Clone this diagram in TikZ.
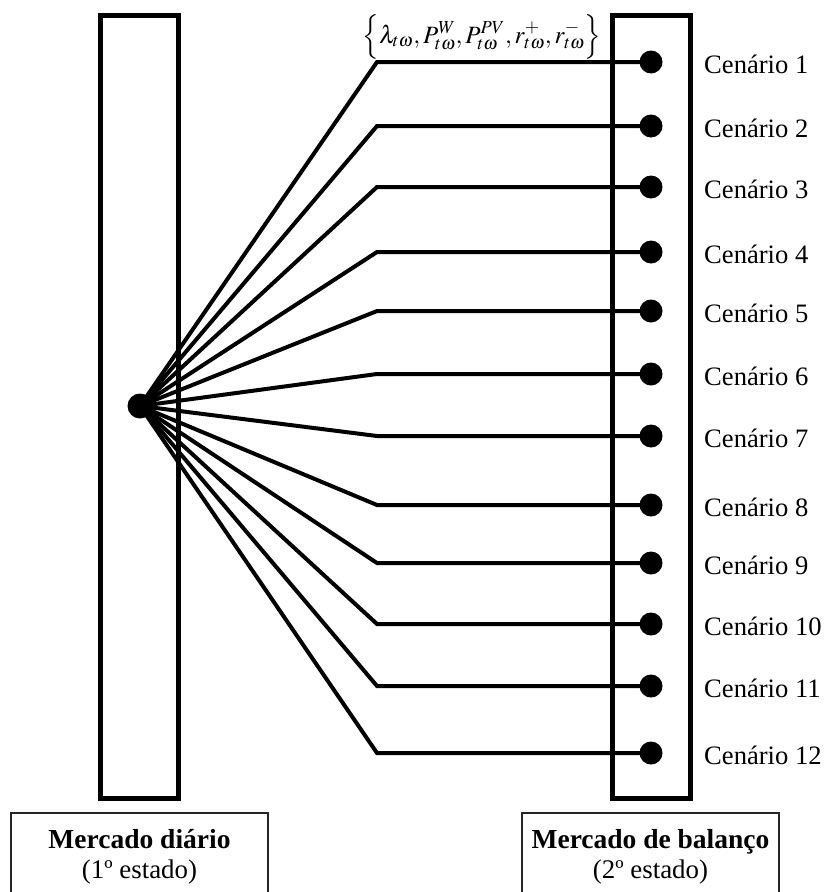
\documentclass[tikz,border=0pt]{standalone}
\usepackage{graphicx}
\usepackage{mathptmx}
\usepackage{fontspec}
\setmainfont{Liberation Serif}
\begin{document}
\begin{tikzpicture}[x=1bp,y=-1bp,
  tall/.style={draw, line width=5bp, minimum width=78bp, minimum height=782bp, inner sep=0pt},
  dotnode/.style={circle, fill=black, minimum size=23bp, inner sep=0pt},
  hubdot/.style={circle, fill=black, minimum size=25bp, inner sep=0pt},
  wire/.style={line width=4bp, line join=miter},
  lbl/.style={anchor=base west, font=\fontsize{26.7}{30}\selectfont, inner sep=0pt},
  boxline/.style={draw=black!85, line width=1.4bp},
  titletext/.style={anchor=base, inner sep=0pt, font=\fontsize{27.6}{30}\selectfont\bfseries},
  subtext/.style={anchor=base, inner sep=0pt, font=\fontsize{27}{30}\selectfont},
]
\useasboundingbox (0,0) rectangle (828,892);
\node[tall] (L) at (139.5,407) {};
\node[tall] (R) at (651,407) {};
\node[hubdot] (hub) at (140,406) {};
\foreach \i/\y in {1/62,2/126,3/187,4/252,5/311,6/374,7/436,8/505,9/563,10/624,11/686,12/753} {
  \coordinate (b\i) at (377,\y);
  \coordinate (p\i) at (651,\y);
}
\foreach \i in {1,...,12} {
  \draw[wire] (hub.center) -- (b\i) -- (p\i);
}
\foreach \i/\y in {1/62,2/126,3/187,4/252,5/311,6/374,7/436,8/505,9/563,10/624,11/686,12/753} {
  \node[dotnode] (d\i) at (p\i) {};
  \node[lbl] (c\i) at (704,\y+11) {Cenário \i};
}
\node[inner sep=0pt, anchor=base, font=\fontsize{25}{30}\selectfont] (math) at (482,43) {$\Bigl\{\lambda_{t\omega}{,}\,P_{t\omega}^{W}{,}\,P_{t\omega}^{PV}{,}\,r_{t\omega}^{+}{,}\,r_{t\omega}^{-}\Bigr\}$};
\draw[boxline] (11,813) rectangle (268,905);
\draw[boxline] (522,813) rectangle (779,905);
\node[titletext] (m1) at (139.5,848) {Mercado diário};
\node[subtext] (e1) at (139.5,878) {(1º estado)};
\node[titletext] (m2) at (650.5,848) {Mercado de balanço};
\node[subtext] (e2) at (650.5,878) {(2º estado)};
\end{tikzpicture}
\end{document}
